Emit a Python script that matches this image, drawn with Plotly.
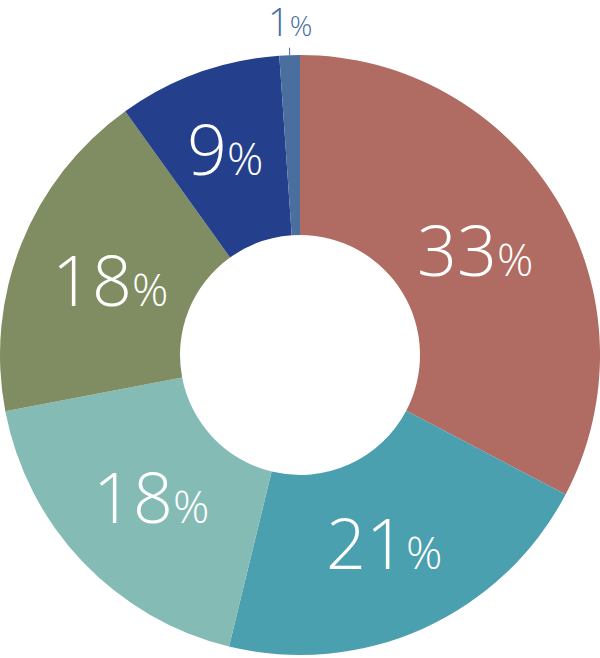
import math
import plotly.graph_objects as go

labels = ["A", "B", "C", "D", "E", "F"]
values = [32.7, 21.1, 18.2, 18.1, 8.8, 1.1]
colors = ["#B06B62", "#4AA0AE", "#84BBB5", "#808D62", "#243F8B", "#4A6E9E"]

W, H = 600, 658
cx_px, cy_px, R = 300, 355, 300

fig = go.Figure(go.Pie(
    labels=labels,
    values=values,
    marker=dict(colors=colors, line=dict(width=0)),
    hole=0.4,
    sort=False,
    direction="clockwise",
    rotation=0,
    textinfo="none",
    domain=dict(x=[0, 1], y=[(H - cy_px - R) / H, (H - cy_px + R) / H]),
    showlegend=False,
    hoverinfo="skip",
))

total = sum(values)
cum = 0
for v, c in zip(values, colors):
    mid = (cum + v / 2) / total * 2 * math.pi
    pct = round(v / total * 100)
    if v >= 5:
        r = 205 if v >= 15 else 220
        px = cx_px + r * math.sin(mid)
        py = cy_px - r * math.cos(mid)
        fig.add_annotation(
            x=px / W, y=1 - py / H, xref="paper", yref="paper",
            xanchor="center", yanchor="middle",
            text=f"{pct}<span style='font-size:45px'>%</span>",
            showarrow=False,
            font=dict(family="Open Sans", size=70, color="white", weight=300),
        )
    else:
        px = cx_px + R * math.sin(mid)
        py = cy_px - R * math.cos(mid)
        fig.add_annotation(
            x=px / W, y=1 - py / H, xref="paper", yref="paper",
            text=f"{pct}<span style='font-size:28px'>%</span>",
            showarrow=True, arrowhead=0, arrowwidth=1, arrowcolor=c,
            ax=0, ay=-34, borderpad=0,
            font=dict(family="Open Sans", size=38, color=c, weight=300),
        )
    cum += v

fig.update_layout(
    width=W, height=H,
    margin=dict(l=0, r=0, t=0, b=0),
    paper_bgcolor="white",
    plot_bgcolor="white",
)

fig.write_html("out.html", config={"displayModeBar": False},
               post_script="document.body.style.margin='0';")
